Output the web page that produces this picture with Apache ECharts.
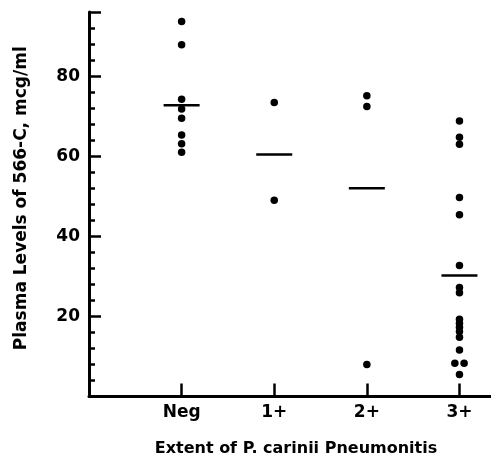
<!DOCTYPE html>
<html>
<head>
<meta charset="utf-8">
<script src="https://cdn.jsdelivr.net/npm/echarts@6/dist/echarts.min.js"></script>
<style>
  html, body { margin: 0; padding: 0; background: #fff; }
  #main { width: 491px; height: 458px; }
</style>
</head>
<body>
<div id="main"></div>
<script>
// groups along the x axis (position 1..4)
var groups = ['Neg', '1+', '2+', '3+'];

// plasma levels of 566-C (mcg/ml)
var negValues = [93.6, 87.8, 74.2, 71.8, 69.5, 65.3, 63.1, 61.0];
var onePlusValues = [73.4, 49.0];
var twoPlusValues = [75.1, 72.4, 8.0];
var threePlusValues = [68.8, 64.7, 63.0, 49.7, 45.4, 32.7, 27.2, 25.9, 19.3, 18.3,
  17.3, 16.2, 14.8, 11.6, 8.3, 8.3, 5.5];
// small sideways shift for the pair of overlapping 3+ points
var threePlusJitter = [0, 0, 0, 0, 0, 0, 0, 0, 0, 0, 0, 0, 0, 0, -0.05, 0.05, 0];

// group means (horizontal bars)
var means = [72.7, 60.4, 52.0, 30.2];

var yTicks = [20, 40, 60, 80];

var font = 'DejaVu Sans, Verdana, sans-serif';

var points = [];
[negValues, onePlusValues, twoPlusValues, threePlusValues].forEach(function (vals, gi) {
  vals.forEach(function (v, i) {
    var dx = gi === 3 ? threePlusJitter[i] : 0;
    points.push([gi + 1 + dx, v]);
  });
});
var meanData = means.map(function (m, i) { return [i + 1, m]; });

var chart = echarts.init(document.getElementById('main'));
var option = {
  animation: false,
  backgroundColor: '#fff',
  // the x axis runs past the right edge of the picture
  grid: { left: 89, width: 414, top: 12, bottom: 61.5, outerBoundsMode: 'none' },
  xAxis: {
    type: 'value',
    min: 0,
    max: 4.47,
    interval: 1,
    splitLine: { show: false },
    axisLine: { lineStyle: { color: '#000', width: 3 } },
    axisTick: { inside: true, length: 13, lineStyle: { color: '#000', width: 2.5 } },
    axisLabel: {
      margin: 8,
      color: '#000',
      fontFamily: font,
      fontWeight: 'bold',
      fontSize: 17,
      formatter: function (v) {
        return Number.isInteger(v) && v >= 1 && v <= 4 ? groups[v - 1] : '';
      }
    },
    name: 'Extent of P. carinii Pneumonitis',
    nameLocation: 'middle',
    nameGap: 44,
    nameTextStyle: {
      color: '#000', fontFamily: font, fontWeight: 'bold', fontSize: 16
    }
  },
  yAxis: {
    type: 'value',
    min: 0,
    max: 96,
    interval: 20,
    splitLine: { show: false },
    axisLine: { lineStyle: { color: '#000', width: 3 } },
    axisTick: { inside: true, length: 12, lineStyle: { color: '#000', width: 2.5 } },
    minorTick: { show: true, splitNumber: 5, length: 6, lineStyle: { color: '#000', width: 2.5 } },
    axisLabel: {
      margin: 9,
      color: '#000',
      fontFamily: font,
      fontWeight: 'bold',
      fontSize: 17,
      formatter: function (v) { return yTicks.indexOf(v) >= 0 ? String(v) : ''; }
    },
    name: 'Plasma Levels of 566-C, mcg/ml',
    nameLocation: 'middle',
    nameRotate: 90,
    nameGap: 59,
    nameTextStyle: {
      color: '#000', fontFamily: font, fontWeight: 'bold', fontSize: 17,
      padding: [0, 0, 0, 12]
    }
  },
  series: [
    {
      type: 'scatter',
      data: points,
      symbol: 'circle',
      symbolSize: 7.5,
      itemStyle: { color: '#000', opacity: 1 }
    },
    {
      type: 'scatter',
      data: meanData,
      symbol: 'rect',
      symbolSize: [36, 2.5],
      itemStyle: { color: '#000', opacity: 1 },
      z: 3
    }
  ]
};
chart.setOption(option);
</script>
</body>
</html>
